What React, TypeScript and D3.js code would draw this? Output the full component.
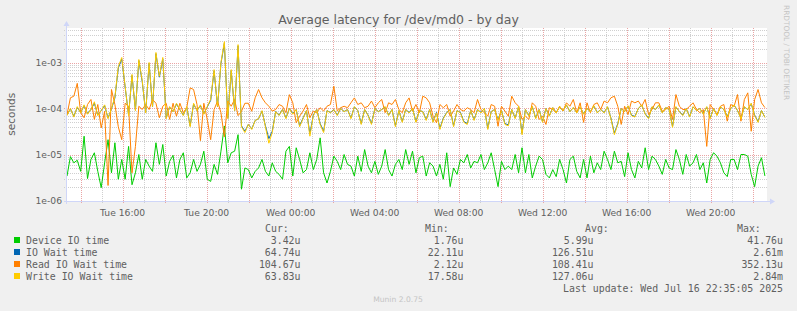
import React from "react";
import * as d3 from "d3";

// ---------- data (values in microseconds) ----------
const DEVICE_IO_U = [
  3.4, 9, 6.6, 7.5, 4.3, 25, 3.0, 7.8, 10.9, 4.3, 1.9, 6.6, 21, 4, 18, 2.9, 7.8, 2.9, 15, 2.2,
  4, 10, 2.9, 7.8, 5.6, 4.3, 18, 6.1, 16.5, 3.4, 7.1, 9.6, 3.1, 7.8, 10.9, 3.1, 4, 7.8, 4.3, 6.1,
  11.8, 2.9, 2.6, 6.1, 3.7, 11.8, 41.76, 6.6, 10.9, 11.8, 27, 1.76, 5.1, 4.7, 3.1, 4.3, 5.1, 7.8,
  4.3, 3.4, 6.6, 4.3, 3.7, 2.9, 11.8, 15, 3.4, 14, 7.8, 4.0, 4.7, 10.9, 4.7, 7.8, 23, 4.0, 2.4, 4.3,
  9.2, 7.1, 4.7, 10, 6.1, 5.6, 3.4, 9.2, 4.3, 12.8, 5.6, 4.0, 7.1, 3.7, 5.6, 12.8, 4.7, 3.4, 6.1, 7.8,
  4.7, 12.8, 6.1, 11.8, 4.0, 8.5, 9.2, 3.4, 6.6, 5.6, 3.4, 6.1, 2.9, 10.9, 2.0, 5.1, 3.7, 7.8, 6.6, 10,
  5.1, 7.1, 6.6, 10, 4.7, 6.6, 10.9, 4.7, 2.0, 7.1, 4.7,
  5.6, 4.7, 10, 4.0, 14, 4.0, 10, 3.1, 5.6, 9.2, 7.8, 3.7, 3.1, 4.7, 3.3, 7.8, 4.7, 2.4, 7.8, 9.2,
  4.3, 3.1, 7.8, 3.1, 9.2, 4.0, 6.6,
  4.7, 11.8, 7.8, 4.7, 11.8, 6.6, 7.1, 3.3, 10.9, 4.7, 3.1, 7.1, 5.1, 14, 4.7, 9.2, 7.8, 5.6, 3.7, 7.8,
  5.1, 4.7, 12.8, 7.8, 3.7, 10, 5.6, 6.6, 10, 4.7, 6.6, 2.4, 7.8, 10.9, 9.2, 6.6, 4.0, 3.3, 7.8, 7.8,
  4.7, 10, 10, 9.2, 3.7, 2.0, 5.6, 8.5, 3.42,
];

const IO_WAIT_U = [
  72, 98, 68, 105, 82, 115, 78, 95, 130, 72, 90, 115, 62, 98, 170, 760, 1200, 290, 72, 520,
  92, 1100, 380, 82, 950, 108, 1550, 480, 1200, 62, 108, 86, 125, 94, 72, 108, 42, 125, 90, 116,
  77, 108, 150, 660, 108, 950, 2610, 62, 660, 90, 2300, 42, 32, 45, 36, 55, 60, 88,
  42, 22.1, 32, 86, 72, 96, 62, 100, 78, 95, 42, 62, 90, 28, 72, 95, 47, 32, 90, 82,
  95, 72, 100, 86, 95, 62, 108, 90, 47, 95, 72, 47, 100, 86, 95, 108, 72, 95, 42, 90,
  52, 95, 82, 100, 52, 90, 86, 57, 95, 52, 82, 37, 62, 82, 95, 42, 90, 82, 52, 47,
  90, 57, 95, 82, 100, 37, 86, 95, 57, 90, 47,
  44, 95, 62, 110, 29, 95, 70, 110, 62, 95, 52, 100, 70, 104, 82, 108, 90, 118, 86, 104,
  82, 108, 77, 100, 86, 113, 82,
  95, 82, 108, 62, 29, 47, 100, 86, 113, 72, 67, 100, 118, 77, 62, 108, 95, 118, 82, 104,
  95, 41, 108, 86, 72, 100, 67, 108, 90, 100, 77, 108, 62, 100, 72, 108, 95, 67, 100, 118,
  90, 62, 108, 95, 127, 72, 52, 90, 64.74,
];

const READ_IO_U = [
  74, 171, 185, 352, 81, 63, 122, 157, 58, 122, 38, 87, 2.12, 259, 122, 40, 21, 130, 112, 4,
  15, 112, 95, 122, 95, 157, 130, 63, 112, 130, 58, 130, 68, 130, 81, 104, 280, 259, 122, 20,
  130, 58, 21, 95, 145, 81, 24, 145, 112, 157, 70, 87, 130, 130, 87, 171, 259, 171,
  133, 112, 88, 95, 122, 112, 81, 200, 133, 49, 68, 88, 122, 63, 88, 81, 104, 88, 112, 122,
  305, 88, 104, 112, 104, 133, 170, 122, 133, 104, 112, 145, 104, 133, 157, 81, 133, 122, 157, 95,
  81, 133, 170, 88, 122, 81, 185, 170, 133, 68, 49, 122, 104, 122, 68, 88, 122, 95, 88, 104,
  95, 81, 157, 95, 81, 68, 122, 112, 41, 112, 88,
  68, 185, 133, 112, 58, 68, 58, 133, 112, 58, 68, 45, 104, 95, 81, 112, 88, 133, 112, 157,
  81, 133, 50, 133, 81, 122, 133,
  95, 145, 133, 171, 185, 112, 45, 112, 74, 145, 133, 145, 112, 157, 74, 95, 133, 133, 87, 95,
  112, 58, 201, 112, 95, 95, 112, 133, 95, 81, 95, 15, 122, 95, 74, 112, 122, 53, 122, 112,
  201, 53, 157, 219, 32, 157, 259, 133, 104.67,
];

const WRITE_IO_U = [
  70, 100, 65, 110, 80, 120, 75, 95, 140, 70, 90, 120, 60, 100, 180, 820, 1285, 300, 70, 550,
  90, 1160, 400, 80, 1000, 110, 1650, 500, 1285, 60, 110, 85, 130, 95, 70, 110, 40, 130, 90, 120,
  75, 110, 160, 700, 110, 1000, 2840, 60, 700, 90, 2450, 40, 30, 45, 35, 55, 60, 90,
  40, 17.6, 30, 85, 70, 95, 60, 100, 75, 95, 40, 60, 90, 25, 70, 95, 45, 30, 90, 80,
  95, 70, 100, 85, 95, 60, 110, 90, 45, 95, 70, 45, 100, 85, 95, 110, 70, 95, 40, 90,
  50, 95, 80, 100, 50, 90, 85, 55, 95, 50, 80, 35, 60, 80, 95, 40, 90, 80, 50, 45,
  90, 55, 95, 80, 100, 35, 85, 95, 55, 90, 45,
  42, 95, 60, 112, 27, 95, 68, 112, 60, 95, 50, 100, 68, 105, 80, 110, 90, 120, 85, 105,
  80, 110, 75, 100, 85, 115, 80,
  95, 80, 110, 60, 27, 45, 100, 85, 115, 70, 65, 100, 120, 75, 60, 110, 95, 120, 80, 105,
  95, 39, 110, 85, 70, 100, 65, 110, 90, 100, 75, 110, 60, 100, 70, 110, 95, 65, 100, 120,
  90, 60, 110, 95, 130, 70, 50, 90, 63.83,
];

const SERIES_NAMES = ["Device IO time", "IO Wait time", "Read IO Wait time", "Write IO Wait time"];
const SERIES_COLORS = ["#00cc00", "#0066b3", "#ff8000", "#ffcc00"];
const CUR = ["3.42u", "64.74u", "104.67u", "63.83u"];
const MIN = ["1.76u", "22.11u", "2.12u", "17.58u"];
const AVG = ["5.99u", "126.51u", "108.41u", "127.06u"];
const MAX = ["41.76u", "2.61m", "352.13u", "2.84m"];

const Y_DECADES = [1e-6, 1e-5, 1e-4, 1e-3];
const Y_LABELS = ["1e-06", "1e-05", "1e-04", "1e-03"];

const TITLE = "Average latency for /dev/md0 - by day";
const Y_TITLE = "seconds";
const LAST_UPDATE = "Last update: Wed Jul 16 22:35:05 2025";
const WATERMARK = "RRDTOOL / TOBI OETIKER";
const FOOTER = "Munin 2.0.75";

const START = new Date(2025, 6, 15, 13, 21);
const END = new Date(2025, 6, 16, 22, 41);
const DATA_END = new Date(2025, 6, 16, 22, 35);

// ---------- layout ----------
const W = 797;
const H = 311;
const PL = 67;
const PR = 767;
const PT = 28;
const PB = 200.5;

const SANS = "'DejaVu Sans', Verdana, sans-serif";
const MONO = "'DejaVu Sans Mono', monospace";
const AXIS_COLOR = "#cfd6f8";
const MINOR = "#cfcfcf";
const MAJOR = "#eaa4a4";
const FONT_COLOR = "#606060";

export default function App() {
  const x = d3.scaleTime().domain([START, END]).range([PL, PR]);
  const y = d3
    .scaleLog()
    .domain([1e-6, Math.pow(10, -6 + (PB - PT) / 46)])
    .range([PB, PT]);

  const timeAt = (i: number, n: number) =>
    new Date(START.getTime() + (i * (DATA_END.getTime() - START.getTime())) / (n - 1));

  const mkLine = (vals: number[]) =>
    d3
      .line<number>()
      .x((_, i) => x(timeAt(i, vals.length)))
      .y((d) => y(d * 1e-6))(vals) || "";

  const series = [DEVICE_IO_U, IO_WAIT_U, READ_IO_U, WRITE_IO_U];

  const hours = d3.timeHour.every(1)!.range(START, END);
  const minorV = hours.filter((h) => h.getHours() % 2 !== 0);
  const majorV = hours.filter((h) => h.getHours() % 2 === 0);
  const labelTicks = hours.filter((h) => h.getHours() % 4 === 0);
  const fmt = d3.timeFormat("%a %H:%M");

  const yTop = y.domain()[1];
  const minorH: number[] = [];
  for (const dec of Y_DECADES.concat([1e-2])) {
    for (let m = 2; m <= 9; m++) {
      const v = dec * m;
      if (v < yTop) minorH.push(v);
    }
  }

  const px = (v: number) => Math.round(v) + 0.5;
  const rowY = [243.5, 255.5, 267.5, 279.5];

  return (
    <svg width={W} height={H} style={{ display: "block" }}>
      <style>{`body{margin:0}`}</style>
      <rect x={0} y={0} width={W} height={H} fill="#f0f0f0" />
      <rect x={PL} y={PT} width={PR - PL} height={PB - PT + 0.5} fill="#ffffff" />

      {minorH.map((v, i) => (
        <line key={"mh" + i} x1={PL - 3} x2={PR} y1={px(y(v))} y2={px(y(v))}
          stroke={MINOR} strokeDasharray="1,1" shapeRendering="crispEdges" />
      ))}
      {Y_DECADES.map((v, i) => (
        <line key={"Mh" + i} x1={PL - 3} x2={PR} y1={px(y(v))} y2={px(y(v))}
          stroke={MAJOR} strokeDasharray="1,1" shapeRendering="crispEdges" />
      ))}
      {minorV.map((t, i) => (
        <line key={"mv" + i} x1={px(x(t))} x2={px(x(t))} y1={PT} y2={PB + 3}
          stroke={MINOR} strokeDasharray="1,1" shapeRendering="crispEdges" />
      ))}
      {majorV.map((t, i) => (
        <line key={"Mv" + i} x1={px(x(t))} x2={px(x(t))} y1={PT} y2={PB + 3}
          stroke={MAJOR} strokeDasharray="1,1" shapeRendering="crispEdges" />
      ))}

      <defs>
        <clipPath id="plotclip">
          <rect x={PL} y={PT} width={PR - PL} height={PB - PT} />
        </clipPath>
      </defs>
      <g clipPath="url(#plotclip)">
        {series.map((s, i) => (
          <path key={"s" + i} d={mkLine(s)} fill="none" stroke={SERIES_COLORS[i]} strokeWidth={1} />
        ))}
      </g>

      <line x1={PL - 3} x2={PR + 3} y1={201.5} y2={201.5} stroke={AXIS_COLOR} />
      <path d={`M${PR + 3},198.5 L${PR + 8},201.5 L${PR + 3},204.5 Z`} fill={AXIS_COLOR} />
      <line x1={66.5} x2={66.5} y1={204} y2={26} stroke={AXIS_COLOR} />
      <path d={`M63.5,26 L66.5,21 L69.5,26 Z`} fill={AXIS_COLOR} />

      {labelTicks.map((t, i) => (
        <text key={"xl" + i} x={x(t)} y={216} textAnchor="middle" fontFamily={SANS}
          fontSize={9.2} fill={FONT_COLOR}>
          {fmt(t)}
        </text>
      ))}
      {Y_DECADES.map((v, i) => (
        <text key={"yl" + i} x={62} y={y(v) + 3.5} textAnchor="end" fontFamily={SANS}
          fontSize={9.2} fill={FONT_COLOR}>
          {Y_LABELS[i]}
        </text>
      ))}

      <text x={398.5} y={23.5} textAnchor="middle" fontFamily={SANS} fontSize={12.5} fill={FONT_COLOR}>
        {TITLE}
      </text>
      <text transform={`translate(15,${(PT + PB) / 2}) rotate(-90)`} textAnchor="middle"
        fontFamily={SANS} fontSize={10.5} fill={FONT_COLOR}>
        {Y_TITLE}
      </text>
      <text transform="translate(784,5) rotate(90)" fontFamily={SANS} fontSize={7.4} fill="#c4c4c4">
        {WATERMARK}
      </text>

      <g fontFamily={MONO} fontSize={9.9} fill={FONT_COLOR}>
        <text x={265} y={231.5}>Cur:</text>
        <text x={425} y={231.5}>Min:</text>
        <text x={585} y={231.5}>Avg:</text>
        <text x={737} y={231.5}>Max:</text>
        {SERIES_NAMES.map((n, i) => (
          <g key={"lg" + i}>
            <rect x={14} y={rowY[i] - 6.5} width={6} height={6} fill={SERIES_COLORS[i]} />
            <text x={26} y={rowY[i]}>{n}</text>
            <text x={300.5} y={rowY[i]} textAnchor="end">{CUR[i]}</text>
            <text x={463.5} y={rowY[i]} textAnchor="end">{MIN[i]}</text>
            <text x={593.5} y={rowY[i]} textAnchor="end">{AVG[i]}</text>
            <text x={783} y={rowY[i]} textAnchor="end">{MAX[i]}</text>
          </g>
        ))}
        <text x={783} y={291.5} textAnchor="end">{LAST_UPDATE}</text>
      </g>
      <text x={398} y={301.5} textAnchor="middle" fontFamily={SANS} fontSize={7.6} fill="#c4c4c4">
        {FOOTER}
      </text>
    </svg>
  );
}
